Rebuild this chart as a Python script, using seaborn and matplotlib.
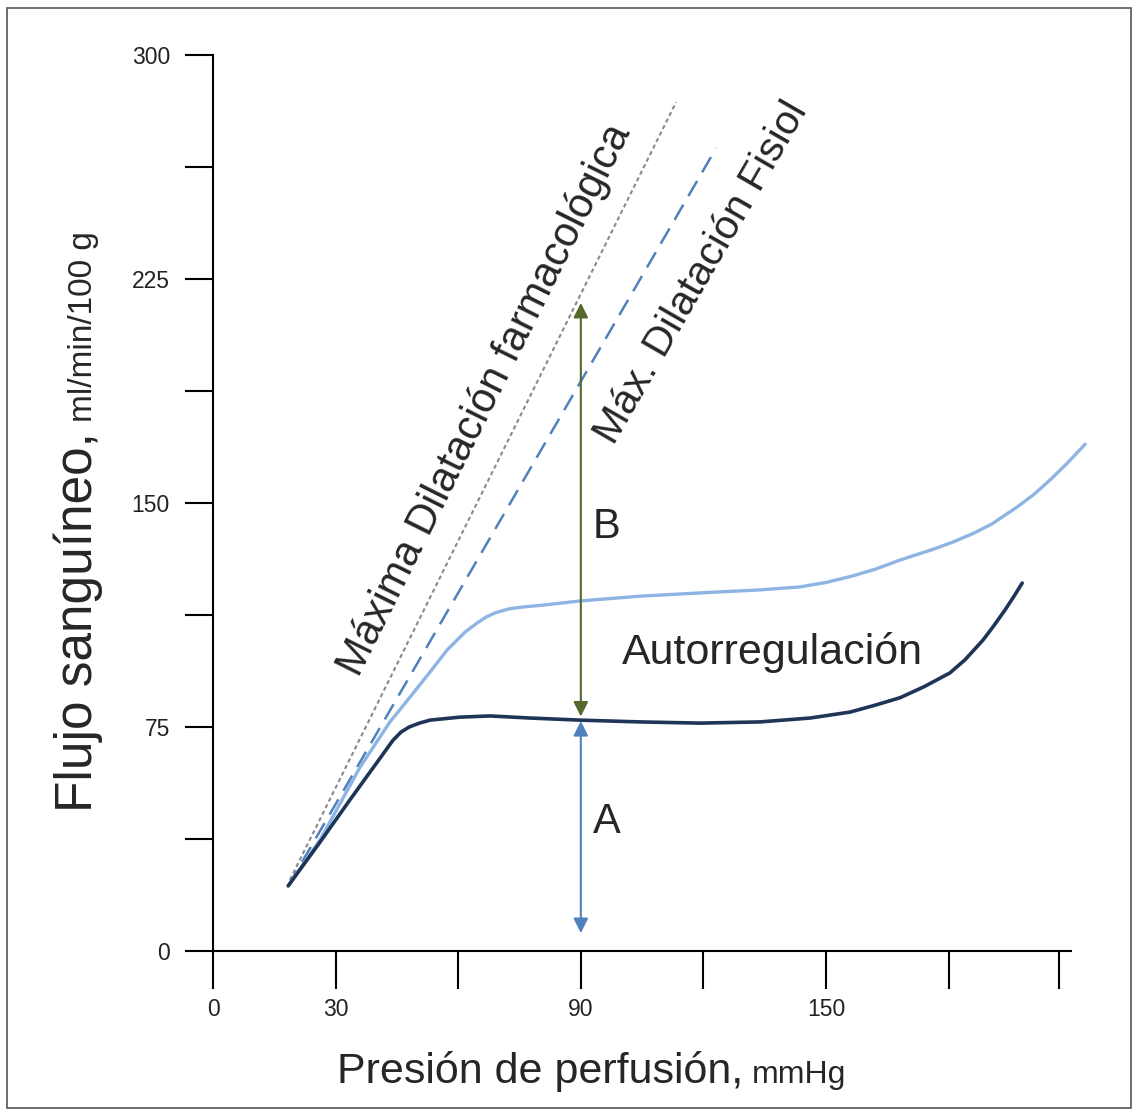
import numpy as np
import pandas as pd
import matplotlib
matplotlib.use("Agg")
import matplotlib.pyplot as plt
from matplotlib.patches import Rectangle
import seaborn as sns

# curva inferior (autorregulacion normal)
base_x = [18.4, 26.2, 33.5, 40.9, 44.0, 46.0, 48.0, 50.5, 53.1, 60.4, 67.8, 77.6,
          89.8, 104.5, 119.2, 133.8, 146.1, 155.9, 162.0, 168.1, 174.0, 180.3,
          184.0, 188.4, 191.0, 193.8, 196.0, 198.0]
base_y = [21.8, 36.5, 50.6, 64.6, 70.5, 73.3, 75.0, 76.3, 77.3, 78.3, 78.7, 78.0,
          77.3, 76.7, 76.3, 76.7, 78.0, 80.0, 82.3, 84.8, 88.5, 93.1,
          97.5, 104.1, 108.8, 114.2, 118.8, 123.2]

# curva superior
upper_x = [18.4, 26.2, 36.0, 43.3, 48.2, 53.1, 57.3, 61.7, 64.6, 66.8, 69.2, 72.5,
           76.0, 80.7, 89.8, 104.5, 119.2, 133.8, 143.6, 150.0, 156.0, 162.0,
           168.1, 176.0, 181.0, 186.0, 190.6, 196.7, 200.8, 204.8, 209.0, 213.4]
upper_y = [21.8, 37.2, 61.6, 76.7, 85.0, 93.4, 100.8, 106.8, 109.8, 111.8, 113.3, 114.6,
           115.2, 115.8, 117.2, 118.8, 119.9, 120.9, 121.9, 123.4, 125.4, 127.8,
           130.9, 134.4, 136.9, 139.8, 143.0, 148.6, 152.8, 157.7, 163.3, 169.7]

# rectas de dilatacion maxima
farm_x = [18.8, 113.3]
farm_y = [23.8, 284.2]
fisio_x = [18.4, 123.1]
fisio_y = [21.8, 268.8]

# flechas A y B
arrow_x = 90
arrow_a = [77.0, 6.0]
arrow_b = [78.5, 217.0]

x_ticks = [0, 30, 60, 90, 120, 150, 180, 207]
x_labels = ["0", "30", "", "90", "", "150", "", ""]
y_ticks = [0, 37.5, 75, 112.5, 150, 187.5, 225, 262.5, 300]
y_labels = ["0", "", "75", "", "150", "", "225", "", "300"]

sns.set_style("white")
plt.rcParams["font.family"] = ["Liberation Sans", "DejaVu Sans"]

fig = plt.figure(figsize=(11.39, 11.16), dpi=100)
ax = fig.add_axes([0.18701, 0.14785, 0.77146, 0.80287])

dark = "#1f3557"
light = "#8db4e2"
midblue = "#4f81bd"
green = "#56692b"

df_base = pd.DataFrame({"p": base_x, "f": base_y})
df_up = pd.DataFrame({"p": upper_x, "f": upper_y})

sns.lineplot(x=farm_x, y=farm_y, ax=ax, color="#8a8a8a", lw=1.5)
ax.lines[-1].set_dashes([2.0, 1.5])
sns.lineplot(x=fisio_x, y=fisio_y, ax=ax, color=midblue, lw=1.8)
ax.lines[-1].set_dashes([7, 4])
sns.lineplot(data=df_up, x="p", y="f", ax=ax, color=light, lw=2.4)
sns.lineplot(data=df_base, x="p", y="f", ax=ax, color=dark, lw=2.6)
for ln in ax.lines:
    ln.set_solid_capstyle("round")
    ln.set_solid_joinstyle("round")
    ln.set_clip_on(False)

ax.annotate("", xy=(arrow_x, arrow_b[1]), xytext=(arrow_x, arrow_b[0]),
            arrowprops=dict(arrowstyle="<|-|>", color=green, lw=1.5,
                            mutation_scale=22, shrinkA=0, shrinkB=0))
ax.annotate("", xy=(arrow_x, arrow_a[1]), xytext=(arrow_x, arrow_a[0]),
            arrowprops=dict(arrowstyle="<|-|>", color=midblue, lw=1.5,
                            mutation_scale=22, shrinkA=0, shrinkB=0))

ax.set_xlim(0, 215)
ax.set_ylim(0, 300)
ax.set_xticks(x_ticks)
ax.set_xticklabels(x_labels)
ax.set_yticks(y_ticks)
ax.set_yticklabels(y_labels)
ax.set_xlabel("")
ax.set_ylabel("")

for s in ["top", "right"]:
    ax.spines[s].set_visible(False)
ax.spines["bottom"].set_bounds(0, 210)
for s in ["left", "bottom"]:
    ax.spines[s].set_linewidth(1.5)
    ax.spines[s].set_color("black")
ax.tick_params(axis="x", length=27, width=1.5, pad=7, labelsize=16.5, direction="out",
               bottom=True, colors="black")
ax.tick_params(axis="y", length=20, width=1.5, pad=11, labelsize=16.5, direction="out",
               left=True, colors="black")
for t in ax.get_xticklabels() + ax.get_yticklabels():
    t.set_color("#222222")

ax.text(66.5, 184.5, "Máxima Dilatación farmacológica", fontsize=30,
        rotation=63.5, ha="center", va="center", rotation_mode="anchor")
ax.text(119.4, 227.0, "Máx. Dilatación Fisiol", fontsize=29.5,
        rotation=60, ha="center", va="center", rotation_mode="anchor")
ax.text(96.4, 142, "B", fontsize=30, ha="center", va="center")
ax.text(96.4, 43.2, "A", fontsize=30, ha="center", va="center")
ax.text(136.8, 100.1, "Autorregulación", fontsize=31, ha="center", va="center")

# etiquetas de ejes con dos tamanos
xl = fig.text(337 / 1139, 1 - 1083 / 1116, "Presión de perfusión,", fontsize=31,
              ha="left", va="baseline")
yl = fig.text(92 / 1139, 1 - 812 / 1116, "Flujo sanguíneo,", fontsize=37,
              ha="left", va="baseline", rotation=90, rotation_mode="anchor")
fig.canvas.draw()
r = fig.canvas.get_renderer()
bx = xl.get_window_extent(r)
fig.text((bx.x1 + 9) / 1139, 1 - 1083 / 1116, "mmHg", fontsize=23,
         ha="left", va="baseline")
by = yl.get_window_extent(r)
fig.text(92 / 1139, (by.y1 + 10) / 1116, "ml/min/100 g", fontsize=24,
         ha="left", va="baseline", rotation=90, rotation_mode="anchor")

fig.patches.append(Rectangle((7 / 1139, 8 / 1116), 1124 / 1139, 1100 / 1116,
                             transform=fig.transFigure, fill=False,
                             edgecolor="#555555", lw=1.2))

fig.savefig("out.png", dpi=100)
